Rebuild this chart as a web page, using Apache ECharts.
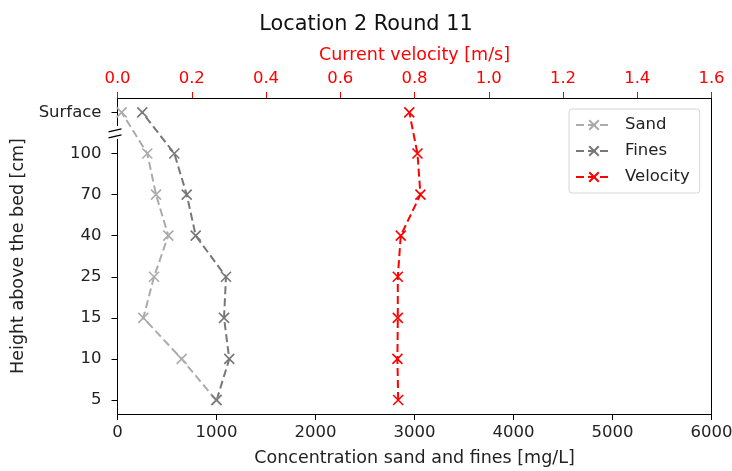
<!DOCTYPE html>
<html><head><meta charset="utf-8">
<script src="https://cdn.jsdelivr.net/npm/echarts@6/dist/echarts.min.js"></script>
<style>html,body{margin:0;padding:0;background:#fff}#c{width:732px;height:471px}</style>
</head><body><div id="c"></div>
<script>
// Data
const heightLabels = ['5', '10', '15', '25', '40', '70', '100', 'Surface'];
const sandConc  = [995, 648, 261, 369, 513, 389, 301, 42];     // mg/L
const finesConc = [1002, 1129, 1076, 1096, 790, 699, 574, 250]; // mg/L
const velocity  = [0.756, 0.754, 0.755, 0.755, 0.763, 0.816, 0.808, 0.786]; // m/s
const seriesNames = ['Sand', 'Fines', 'Velocity'];

const FONT = 'DejaVu Sans';
const X_SYMBOL = 'path://M0,0L10,10M0,10L10,0';
const yIdx = heightLabels.map((_, i) => i);
const pairs = vals => vals.map((v, i) => [v, yIdx[i]]);

const chart = echarts.init(document.getElementById('c'), null, {renderer: 'canvas'});

function mkSeries(name, vals, color, xAxisIndex) {
  return {
    name: name, type: 'line', xAxisIndex: xAxisIndex, yAxisIndex: 0,
    data: pairs(vals),
    symbol: X_SYMBOL, symbolSize: 10,
    lineStyle: {color: color, width: 2, type: [8, 4]},
    itemStyle: {color: color, borderColor: color, borderWidth: 1.6},
    emphasis: {disabled: true},
    z: 3
  };
}

const tickTxt = {color: '#222', fontFamily: FONT, fontSize: 16.5};
const nameTxt = {color: '#222', fontFamily: FONT, fontSize: 17.5};

chart.setOption({
  animation: false,
  textStyle: {fontFamily: FONT},
  title: {
    text: 'Location 2 Round 11', left: 'center', top: 9,
    textStyle: {fontFamily: FONT, fontSize: 20.8, fontWeight: 'normal', color: '#111'}
  },
  grid: {left: 117.5, right: 20.5, top: 98, bottom: 57, outerBoundsMode: 'none', containLabel: false},
  legend: {
    orient: 'vertical', left: 569, top: 109,
    data: seriesNames,
    itemWidth: 36, itemHeight: 12, itemGap: 6,
    padding: [6, 10, 6, 6],
    borderColor: '#d6d6d6', borderWidth: 1, borderRadius: 3,
    textStyle: {fontFamily: FONT, fontSize: 16.5, color: '#222', padding: [0, 0, 0, 8], lineHeight: 20}
  },
  xAxis: [
    {
      type: 'value', position: 'bottom', min: 0, max: 6000, interval: 1000,
      name: 'Concentration sand and fines [mg/L]', nameLocation: 'middle', nameGap: 35,
      nameTextStyle: nameTxt,
      axisLine: {show: true, onZero: false, lineStyle: {color: '#000', width: 1}},
      axisTick: {show: true, length: 6, lineStyle: {color: '#000'}},
      axisLabel: Object.assign({margin: 10, formatter: v => String(v)}, tickTxt),
      splitLine: {show: false}
    },
    {
      type: 'value', position: 'top', min: 0, max: 1.6, interval: 0.2,
      name: 'Current velocity [m/s]', nameLocation: 'middle', nameGap: 34,
      nameTextStyle: Object.assign({}, nameTxt, {color: '#ff0000'}),
      axisLine: {show: true, onZero: false, lineStyle: {color: '#000', width: 1}},
      axisTick: {show: true, length: 6, lineStyle: {color: '#ff0000'}},
      axisLabel: Object.assign({margin: 11}, tickTxt, {color: '#ff0000', formatter: v => v.toFixed(1)}),
      splitLine: {show: false}
    }
  ],
  yAxis: [
    {
      type: 'value', position: 'left', min: -0.34, max: 7.35,
      name: 'Height above the bed [cm]', nameLocation: 'middle', nameGap: 88,
      nameTextStyle: nameTxt,
      axisLine: {show: true, onZero: false, lineStyle: {color: '#000', width: 1}},
      axisTick: {show: true, length: 6, customValues: yIdx, lineStyle: {color: '#000'}},
      axisLabel: Object.assign({margin: 16, customValues: yIdx, formatter: v => heightLabels[Math.round(v)]}, tickTxt),
      splitLine: {show: false}
    },
    {
      type: 'value', position: 'right', min: -0.34, max: 7.35,
      axisLine: {show: true, onZero: false, lineStyle: {color: '#000', width: 1}},
      axisTick: {show: false}, axisLabel: {show: false}, splitLine: {show: false}
    }
  ],
  series: [
    mkSeries(seriesNames[0], sandConc, '#ababab', 0),
    mkSeries(seriesNames[1], finesConc, '#777777', 0),
    mkSeries(seriesNames[2], velocity, '#ff0000', 1)
  ]
});

// axis-break marker between "100" and "Surface"
const by = chart.convertToPixel({yAxisIndex: 0}, 6.5);
const bx = chart.convertToPixel({xAxisIndex: 0}, 0);
chart.setOption({
  graphic: [
    {type: 'rect', shape: {x: bx - 3, y: by - 7, width: 6, height: 13}, style: {fill: '#fff'}, z: 10},
    {type: 'line', shape: {x1: bx - 9, y1: by - 1, x2: bx + 4, y2: by - 4}, style: {stroke: '#000', lineWidth: 1.2}, z: 11},
    {type: 'line', shape: {x1: bx - 9, y1: by + 5, x2: bx + 4, y2: by + 2}, style: {stroke: '#000', lineWidth: 1.2}, z: 11}
  ]
});
</script>
</body></html>
